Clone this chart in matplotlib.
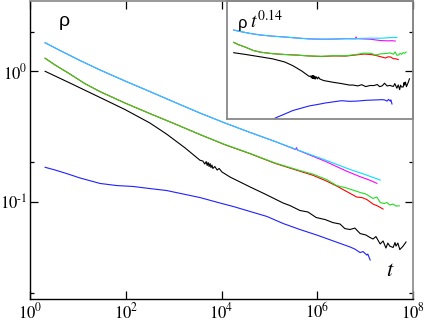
import numpy as np
import matplotlib
matplotlib.use("Agg")
import matplotlib.pyplot as plt
from matplotlib.ticker import FixedLocator, NullFormatter, FuncFormatter

plt.rcParams['font.family'] = ['Liberation Serif', 'DejaVu Serif']
plt.rcParams['mathtext.fontset'] = 'stix'

# ---- data (log10 t, log10 rho) ----
magenta_log_t = [0.31, 0.62, 1.04, 1.46, 1.98, 2.50, 3.03, 3.55, 4.07, 4.60, 5.12, 5.55, 5.57, 5.59,
                 5.64, 6.17, 6.62, 6.90, 7.11, 7.25]
magenta_log_rho = [0.219, 0.160, 0.083, 0.010, -0.074, -0.155, -0.239, -0.320, -0.396, -0.469, -0.538,
                   -0.600, -0.585, -0.605, -0.611, -0.690, -0.766, -0.808, -0.836, -0.859]

cyan_log_t = [0.31, 0.62, 1.04, 1.46, 1.98, 2.50, 3.03, 3.55, 4.07, 4.60, 5.12, 5.64, 6.17, 6.69, 7.00, 7.32]
cyan_log_rho = [0.219, 0.160, 0.083, 0.010, -0.074, -0.155, -0.239, -0.320, -0.396, -0.469, -0.538,
                -0.609, -0.680, -0.753, -0.791, -0.834]

red_log_t = [0.31, 0.52, 0.83, 1.14, 1.46, 1.98, 2.50, 3.03, 3.55, 4.07, 4.60, 5.12, 5.64, 5.91, 6.20,
             6.41, 6.62, 6.83, 6.94, 7.04, 7.17, 7.27, 7.38]
red_log_rho = [0.100, 0.048, -0.021, -0.094, -0.156, -0.243, -0.324, -0.404, -0.485, -0.563, -0.632,
               -0.706, -0.766, -0.797, -0.842, -0.880, -0.922, -0.964, -0.968, -0.983, -1.018, -1.033, -1.056]

green_log_t = [0.31, 0.52, 0.83, 1.14, 1.46, 1.98, 2.50, 3.03, 3.55, 4.07, 4.60, 5.12, 5.64, 5.91, 6.20,
               6.41, 6.62, 6.90, 7.02, 7.17, 7.25, 7.32, 7.40, 7.46, 7.52, 7.59, 7.65, 7.72]
green_log_rho = [0.100, 0.048, -0.021, -0.094, -0.156, -0.243, -0.324, -0.404, -0.485, -0.561, -0.630,
                 -0.703, -0.761, -0.788, -0.830, -0.876, -0.895, -0.929, -0.941, -0.975, -0.964, -1.006,
                 -1.014, -1.006, -1.025, -1.018, -1.033, -1.031]

black_log_t = [0.31, 0.83, 1.46, 1.98, 2.50, 2.85, 3.24, 3.55, 3.61, 3.65, 3.68, 3.70, 3.72, 3.74, 3.76,
               3.78, 3.80, 3.82, 3.86, 3.91, 3.95, 4.01, 4.18, 4.60, 4.91, 5.29, 5.43, 5.64, 5.81, 5.98,
               6.17, 6.33, 6.48, 6.58, 6.69, 6.79, 6.90, 7.02, 7.11, 7.17, 7.23, 7.32, 7.38, 7.44, 7.48,
               7.52, 7.59, 7.63, 7.65, 7.69, 7.73, 7.80, 7.86]
black_log_rho = [0.000, -0.090, -0.201, -0.293, -0.396, -0.481, -0.588, -0.682, -0.688, -0.711, -0.692,
                 -0.722, -0.699, -0.730, -0.707, -0.738, -0.719, -0.745, -0.730, -0.757, -0.745, -0.772,
                 -0.811, -0.887, -0.941, -1.010, -1.029, -1.067, -1.079, -1.121, -1.137, -1.160, -1.171,
                 -1.206, -1.213, -1.202, -1.244, -1.255, -1.275, -1.286, -1.267, -1.324, -1.301, -1.355,
                 -1.317, -1.340, -1.351, -1.313, -1.340, -1.317, -1.367, -1.340, -1.309]

blue_log_t = [0.31, 0.52, 0.76, 1.04, 1.46, 1.81, 2.15, 2.50, 2.85, 3.20, 3.55, 3.97, 4.25, 4.60, 4.95,
              5.29, 5.64, 5.99, 6.34, 6.69, 6.79, 6.90, 6.96, 7.04, 7.06, 7.11]
blue_log_rho = [-0.736, -0.757, -0.784, -0.818, -0.860, -0.876, -0.883, -0.899, -0.914, -0.941, -0.968,
                -1.010, -1.037, -1.075, -1.113, -1.167, -1.213, -1.255, -1.301, -1.347, -1.363, -1.390,
                -1.382, -1.409, -1.401, -1.447]

exponent = 0.14
x_ticks = [1e0, 1e2, 1e4, 1e6, 1e8]
y_major = [0.1, 1.0]
y_minor = [0.02, 0.2, 2.0]

series = [
    (magenta_log_t, magenta_log_rho, '#ff00ff'),
    (cyan_log_t, cyan_log_rho, '#00e0ff'),
    (red_log_t, red_log_rho, '#ff0000'),
    (green_log_t, green_log_rho, '#22dd22'),
    (black_log_t, black_log_rho, '#000000'),
    (blue_log_t, blue_log_rho, '#2020ff'),
]

W, H = 425, 322
fig = plt.figure(figsize=(W / 100, H / 100), dpi=100)
fig.patch.set_facecolor('white')

ax = fig.add_axes([30.3 / W, (H - 298.5) / H, 382.4 / W, 297.5 / H])
axin = fig.add_axes([226.5 / W, (H - 119) / H, 186.2 / W, 118 / H])
ax.set_zorder(2)
ax.patch.set_visible(False)
axin.set_zorder(1)

lw = 0.8
for lt, lr, c in series:
    t = 10 ** np.array(lt)
    r = 10 ** np.array(lr)
    ax.plot(t, r, color=c, lw=lw)
    axin.plot(t, r * t ** exponent, color=c, lw=lw)


def pow_fmt(v, pos):
    e = int(round(np.log10(v)))
    if e < 0:
        return r'$\mathrm{10^{\text{-}%d}}$' % (-e)
    return r'$\mathrm{10^{%d}}$' % e


ax.set_xscale('log')
ax.set_yscale('log')
ax.set_xlim(1, 1e8)
ax.set_ylim(10 ** -1.742, 10 ** 0.539)
ax.xaxis.set_major_locator(FixedLocator(x_ticks))
ax.xaxis.set_minor_locator(FixedLocator([]))
ax.xaxis.set_major_formatter(FuncFormatter(pow_fmt))
ax.yaxis.set_major_locator(FixedLocator(y_major))
ax.yaxis.set_minor_locator(FixedLocator(y_minor))
ax.yaxis.set_major_formatter(FuncFormatter(pow_fmt))
ax.yaxis.set_minor_formatter(NullFormatter())
ax.tick_params(which='both', direction='in', top=True, right=True, labelsize=12, width=0.9)
ax.tick_params(which='major', length=5.5)
ax.tick_params(which='minor', length=3)
ax.tick_params(axis='x', pad=2.5)
ax.tick_params(axis='y', pad=2)
for sp in ('left', 'bottom'):
    ax.spines[sp].set_color('black')
    ax.spines[sp].set_linewidth(1.0)
for sp in ('top', 'right'):
    ax.spines[sp].set_color('#888888')
    ax.spines[sp].set_linewidth(1.2)
for tk in ax.xaxis.get_major_ticks():
    tk.tick2line.set_color('#888888')
for tk in ax.yaxis.get_major_ticks() + ax.yaxis.get_minor_ticks():
    tk.tick2line.set_color('#666666')

axin.set_xscale('log')
axin.set_yscale('log')
axin.set_xlim(1, 1e8)
axin.set_ylim(0.253, 3.49)
axin.set_xticks([])
axin.set_yticks([])
axin.minorticks_off()
for sp in axin.spines.values():
    sp.set_color('#888888')
    sp.set_linewidth(1.3)

ax.text(0.088, 0.93, 'ρ', transform=ax.transAxes, ha='center', va='center',
        fontsize=14, family=['Liberation Sans', 'DejaVu Sans'])
ax.text(0.941, 0.09, '$t$', transform=ax.transAxes, ha='center', va='center', fontsize=16)

axin.text(0.086, 0.81, 'ρ', transform=axin.transAxes, ha='center', va='center',
          fontsize=12, family=['Liberation Sans', 'DejaVu Sans'])
axin.text(0.128, 0.775, '$t^{0.14}$', transform=axin.transAxes, ha='left', va='baseline', fontsize=14)

fig.savefig('out.png', dpi=100)
